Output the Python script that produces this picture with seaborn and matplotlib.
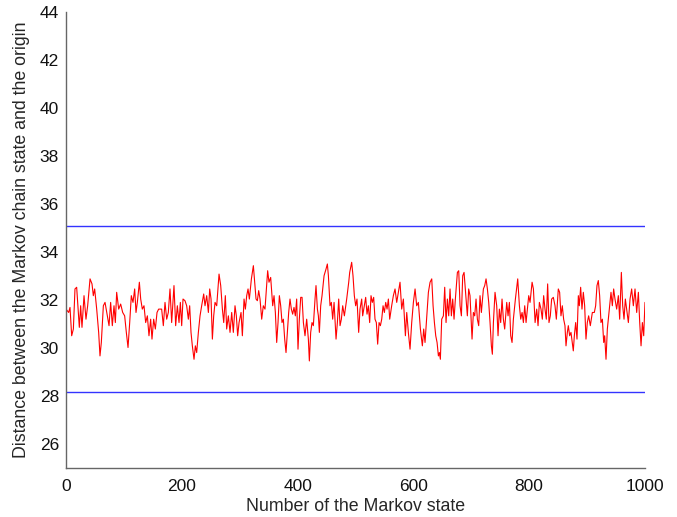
import numpy as np
import pandas as pd
import matplotlib
matplotlib.use("Agg")
import matplotlib.pyplot as plt
import seaborn as sns

# Red series: (state index, distance)
state_x = [
    0, 4.6, 6.9, 9.8, 12.7, 15.5, 18.4, 21.3, 23.0, 25.3, 27.6, 31.1, 34.5, 37.4, 41.5, 44.9, 47.2, 49.5, 53, 56.4,
    58.7, 61, 64.5, 67.4, 71.4, 74.3, 77.1, 80, 82.9, 85.2, 87.5, 91, 94.4, 97.9, 101.3, 104.2, 107.1, 110, 112.8, 115.7,
    118.6, 120.9, 123.2, 126.7, 129, 131.8, 134.7, 137.6, 140.5, 143.3, 146.2, 148.5, 151.4, 154.3, 157.2, 160,
    165.2, 168.1, 171, 173.9, 176.7, 179.6, 182.5, 186.5, 189.4, 192.3, 195.2, 197.5, 199.8, 202.1, 205.5, 208.4,
    211.3, 213.6, 215.9, 218.2, 221.1, 223.4, 225.7, 228.6, 231.5, 234.3, 237.8, 240.1, 243, 245.9, 248.2, 250.5,
    252.8, 255.1, 257.4, 260.3, 264.3, 267.2, 270.1, 272.4, 275.2, 277.5, 280.4, 283.3, 286.2, 289, 291.9, 294.2,
    296.5, 298.9, 302.3, 304.6, 307.5, 309.8, 312.1, 314.4, 316.7, 320.2, 323.6,
    328.2, 330.5, 332.8, 335.1, 338, 340.8, 343.7, 348.3, 350.6, 353.5, 357, 359.3, 361.6, 363.9, 366.2, 368.5,
    370.8, 373.1, 375.4, 377.7, 380, 382.3, 384.6, 386.9, 389.2, 391.5, 393.8, 396.1, 398.4, 400.7, 403, 405.4,
    407.7, 410, 412.8, 415.7, 418.6, 420.3, 422.6, 424.9, 427.2, 430.1, 431.8, 434.2, 435.9, 437.6, 439.9, 442.2,
    445.7, 449.1, 451.4, 453.2, 456, 458.3, 460.6, 463, 466.4, 468.7, 471, 473.3, 475.6, 477.9, 480.8, 484.8, 488.3,
    490, 493.4, 495.7, 498, 500.3, 502.6, 505.5, 507.8, 510.7, 512.4, 515.3, 517.6, 519.9, 522.2, 524.5, 526.8,
    529.1, 531.4, 533.7, 536, 538.3, 540.7, 543, 545.3, 547.6, 549.9, 552.2, 554.5, 556.8, 559.1, 562.5, 565.4,
    568.3, 571.2, 574.1, 576.9, 579.8, 582.7, 586.2, 588.5, 591.3, 594.2, 597.1, 600, 602.9, 605.7, 608.6, 612.1,
    615.5, 617.8, 620.1, 622.4, 625.9, 628.8, 631.7, 634, 636.3, 638.6, 640.9, 643.2, 644.9, 646.6, 648.9, 651.8,
    654.1, 656.4, 658.7, 661, 663.3, 665.6, 667.9, 670.2, 672.5, 676, 678.3, 680.6, 682.9, 685.2, 687.5, 690.9,
    693.2, 695.5, 697.8, 701.3, 703.6, 705.9, 708.2, 710.5, 712.8, 715.1, 717.4, 720.9, 723.2, 725.5, 727.8, 730.1,
    732.4, 734.7, 736.4, 738.2, 741, 743.9, 746.2, 748.5, 750.8, 753.1, 755.4, 757.7, 761.2, 763.5, 765.8, 768.1,
    770.4, 772.7, 776.2, 780.2, 783.1, 785.4, 787.7, 790, 792.3, 794.6, 799.2, 801.5, 805, 807.3, 810.2, 813,
    815.3, 817.6, 820.4, 822.7, 825, 827.3, 829.6, 831.9, 834.2, 836.5, 838.8, 841.7, 844.6, 846.9, 850.3, 852.6,
    854.9, 857.2, 859.5, 861.8, 863.6, 865.9, 867.6, 869.9, 872.2, 876.2, 878, 880.3, 882.6, 884.9, 886.6, 888.9,
    891.2, 893.5, 895.8, 898.1, 900.4, 902.7, 905.6, 909.1, 912.5, 914.8, 917.1, 919.4, 921.7, 924, 926.4, 928.7,
    930.4, 932.7, 935, 937.9, 941.3, 943.6, 945.9, 948.2, 951.1, 954, 956.3, 959.2, 961.5, 963.8, 966.1, 969,
    971.3, 974.2, 977, 979.9, 982.8, 985.7, 988.6, 990.9, 993.2, 995.5, 997.8, 1000,
]
distance = [
    31.62, 31.48, 31.69, 30.51, 30.79, 32.46, 32.53, 31.48, 30.86, 31.76, 30.86, 32.18, 31.2, 31.76, 32.88, 32.67, 32.18, 32.46, 31.62, 30.65,
    29.67, 30.23, 31.76, 31.9, 31.34, 30.93, 31.9, 30.93, 31.76, 31.06, 32.32, 31.62, 31.83, 31.48, 31.34, 30.65, 30.02, 31.06, 32.18, 31.9,
    32.46, 31.48, 31.9, 32.74, 32.04, 31.62, 31.76, 31.06, 31.34, 30.51, 31.2, 30.37, 31.2, 30.79, 31.48, 31.62,
    31.62, 30.93, 31.9, 31.2, 31.48, 32.46, 31.06, 32.6, 30.93, 31.76, 31.06, 31.9, 30.93, 32.04, 31.97, 31.76,
    31.2, 31.76, 30.65, 30.09, 29.53, 30.09, 29.81, 30.65, 31.34, 31.76, 32.25, 31.76, 32.18, 31.48, 32.46, 32.04,
    30.37, 31.34, 31.9, 31.76, 33.08, 32.6, 31.62, 31.06, 32.18, 30.79, 31.34, 30.65, 31.48, 30.65, 31.76, 31.34,
    30.51, 31.06, 31.48, 30.51, 32.04, 31.62, 32.18, 32.46, 32.04, 32.88, 33.43,
    32.04, 31.97, 32.39, 32.04, 31.2, 31.76, 31.62, 33.22, 32.74, 32.94, 31.76, 32.18, 31.48, 30.23, 31.06, 32.18,
    31.76, 31.06, 31.2, 30.37, 29.81, 30.65, 31.48, 32.04, 31.62, 31.41, 31.69, 31.34, 32.04, 29.95, 31.2, 32.11,
    32.11, 31.06, 30.51, 31.2, 30.37, 29.46, 30.65, 31.06, 30.93, 32.04, 32.6, 31.62, 31.34, 30.65, 31.76, 32.18,
    33.01, 33.29, 33.5, 33.01, 31.76, 31.9, 31.2, 31.9, 30.37, 31.06, 32.04, 30.93, 31.2, 31.76, 31.34, 32.04, 32.74,
    33.15, 33.57, 33.01, 32.18, 31.76, 32.04, 30.65, 31.62, 32.04, 31.34, 31.76, 32.11, 31.41, 31.76, 31.06, 32.18,
    31.9, 32.11, 31.2, 31.06, 30.16, 31.06, 30.93, 31.2, 31.76, 31.48, 31.9, 31.62, 32.04, 31.2, 31.76, 32.18,
    32.46, 31.9, 32.32, 32.74, 31.62, 32.04, 30.51, 31.48, 30.65, 29.95, 31.06, 31.9, 32.46, 31.76, 31.9, 30.79,
    30.09, 30.79, 30.23, 31.06, 32.32, 32.74, 32.88, 31.76, 31.06, 30.51, 30.23, 29.67, 29.81, 29.53, 31.2, 31.34,
    32.53, 31.06, 32.04, 31.34, 32.46, 31.34, 32.04, 31.2, 32.04, 33.15, 33.22, 31.76, 31.34, 33.01, 33.15, 32.04,
    31.34, 32.46, 32.18, 30.37, 31.48, 31.34, 32.04, 31.2, 30.93, 32.18, 31.48, 32.46, 32.6, 32.88, 32.46, 31.9,
    31.06, 30.09, 29.74, 31.06, 32.32, 31.76, 30.51, 31.62, 31.06, 32.04, 31.2, 30.79, 31.9, 31.34, 31.9, 30.51,
    30.23, 31.2, 32.04, 32.88, 31.76, 31.2, 31.48, 31.06, 31.76, 31.06, 32.18, 31.9, 32.74, 32.46, 31.06, 31.62,
    30.93, 31.9, 31.62, 31.2, 32.18, 31.62, 31.2, 32.67, 31.06, 31.34, 32.04, 32.11, 31.76, 31.2, 32.46, 32.32,
    31.34, 31.76, 31.2, 30.93, 30.09, 30.65, 30.93, 30.51, 30.65, 29.88, 30.51, 31.06, 30.37, 32.18, 31.76, 32.53,
    31.62, 32.32, 31.76, 30.37, 31.06, 31.34, 30.93, 31.48, 31.48, 31.76, 32.6, 32.81, 32.18, 31.06, 31.2, 30.23,
    30.51, 29.53, 30.79, 31.48, 32.32, 31.76, 32.46, 32.04, 31.62, 32.18, 31.2, 33.15, 31.76, 31.2, 32.04, 31.48,
    31.06, 32.04, 32.46, 31.76, 32.46, 31.48, 32.32, 31.06, 30.09, 31.06, 30.51, 31.9,
]

# Blue bounds
bound_levels = [35.08, 28.15]
bound_x = [0, 1000]

x_ticks = [0, 200, 400, 600, 800, 1000]
y_ticks = [26, 28, 30, 32, 34, 36, 38, 40, 42, 44]

sns.set_theme(style="white")
plt.rcParams['font.family'] = ['Liberation Sans', 'DejaVu Sans']

fig = plt.figure(figsize=(6.77, 5.17), dpi=100)
ax = fig.add_axes([0.0975, 0.0948, 0.8552, 0.882])

df = pd.DataFrame({"state": state_x, "dist": distance})
sns.lineplot(data=df, x="state", y="dist", ax=ax, color="#ff0000", linewidth=0.8, estimator=None, sort=False)

for lvl in bound_levels:
    bdf = pd.DataFrame({"state": bound_x, "dist": [lvl, lvl]})
    sns.lineplot(data=bdf, x="state", y="dist", ax=ax, color="#3333ff", linewidth=1.0, estimator=None)

ax.set_xlim(0, 1000)
ax.set_ylim(25, 44)
ax.set_xticks(x_ticks)
ax.set_yticks(y_ticks)
ax.set_xlabel("Number of the Markov state", fontsize=12.8, labelpad=3)
ax.set_ylabel("Distance between the Markov chain state and the origin", fontsize=12.8, labelpad=7)
ax.tick_params(axis="both", direction="in", length=5, width=0.8, colors="#555555", labelsize=12.5)
ax.tick_params(axis="x", pad=8)
ax.tick_params(axis="y", pad=5)
ax.tick_params(axis="both", labelcolor="#111111")
for s in ["top", "right"]:
    ax.spines[s].set_visible(False)
for s in ["left", "bottom"]:
    ax.spines[s].set_color("#666666")
    ax.spines[s].set_linewidth(1.0)
ax.grid(False)

fig.savefig("out.png", dpi=100)
